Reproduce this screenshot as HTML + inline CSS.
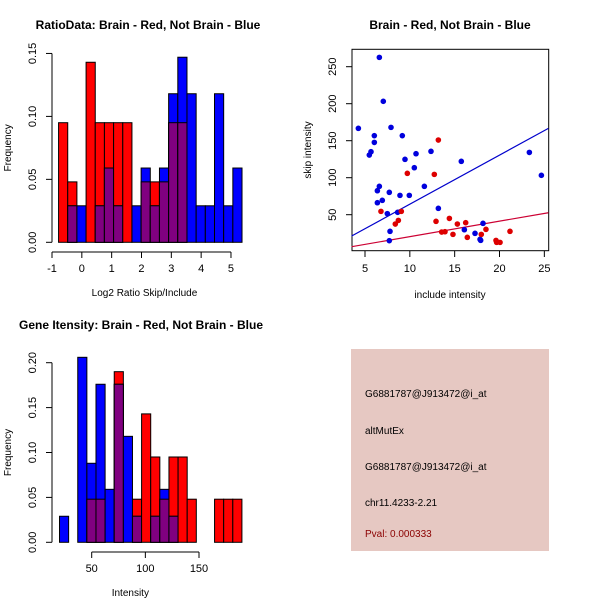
<!DOCTYPE html>
<html><head><meta charset="utf-8"><style>
body{margin:0;background:#fff}
svg{font-family:"Liberation Sans",Arial,sans-serif;display:block}
.t{font-weight:bold;font-size:12px}
.l{font-size:10px}
</style></head><body>
<svg id="s" width="600" height="600" viewBox="0 0 600 600">
<rect width="600" height="600" fill="#fff"/>
</svg>
<script>
// ---- data ----
const ratioBinStart = -0.78, ratioBinWidth = 0.3075;
const ratioRed  = [0.095,0.048,0,0.143,0.095,0.095,0.095,0.095,0,0.048,0.048,0.048,0.095,0.095,0,0,0,0,0,0];
const ratioBlue = [0,0.029,0.029,0,0.029,0.059,0.029,0,0.029,0.059,0.029,0.059,0.118,0.147,0.118,0.029,0.029,0.118,0.029,0.059];
const ratioXTicks = [-1,0,1,2,3,4,5];
const ratioYTicks = ["0.00","0.05","0.10","0.15"];

const intBinStart = 20, intBinWidth = 8.5;
const intRed  = [0,0,0,0.048,0.048,0,0.190,0,0.048,0.143,0.095,0.048,0.095,0.095,0.048,0,0,0.048,0.048,0.048];
const intBlue = [0.029,0,0.206,0.088,0.176,0.059,0.176,0.118,0.029,0,0.029,0.059,0.029,0,0,0,0,0,0,0];
const intXTicks = [50,100,150];
const intYTicks = ["0.00","0.05","0.10","0.15","0.20"];

const blueX = [4.26,6.60,7.04,7.90,6.04,6.04,5.48,5.67,6.38,6.60,6.93,6.38,7.71,7.49,8.64,8.90,9.94,9.16,9.46,10.50,10.69,11.62,12.36,15.74,13.18,16.08,18.16,17.27,17.83,17.90,7.71,7.79,23.33,24.67];
const blueY = [166.7,262.6,203.2,168.0,156.8,147.7,130.6,135.1,82.4,88.3,69.4,66.2,80.2,51.4,53.2,76.1,76.1,156.8,124.8,113.5,132.4,88.3,135.6,122.1,58.6,29.7,38.3,24.8,16.7,15.3,14.9,27.5,134.2,103.2];
const redX = [6.78,9.72,12.73,13.18,9.05,8.38,8.72,12.92,14.41,15.30,16.23,13.55,13.92,14.81,16.41,17.97,18.49,19.61,19.68,20.06,21.17];
const redY = [54.5,105.9,104.5,150.9,54.5,37.4,42.3,41.0,45.0,37.4,39.2,26.6,27.0,23.4,19.4,23.4,30.2,15.3,12.6,12.6,27.5];
const blueFit = [-2.07,6.63];
const redFit = [-0.54,2.09];
const scatXTicks = [5,10,15,20,25];
const scatYTicks = [50,100,150,200,250];

const NS="http://www.w3.org/2000/svg", S=document.getElementById('s');
function el(t,a,txt){const e=document.createElementNS(NS,t);for(const k in a)e.setAttribute(k,a[k]);if(txt!==undefined)e.textContent=txt;S.appendChild(e);return e;}

function hist(red,blue,start,w,xs,ys,yticks,xticks,xlab,title,titleX,titleY,axisY,xTickFrom,xTickTo,prefix){
  for(let i=0;i<red.length;i++){
    const x0=xs(start+i*w), x1=xs(start+(i+1)*w);
    const r=red[i], b=blue[i], m=Math.min(r,b);
    if(r>0){const e=el('rect',{x:x0,y:ys(r),width:x1-x0,height:ys(0)-ys(r),fill:'#ff0000',stroke:'#000','stroke-width':1});
      
      }
    if(b>0){const e=el('rect',{x:x0,y:ys(b),width:x1-x0,height:ys(0)-ys(b),fill:'#0000ff',stroke:'#000','stroke-width':1});
      
      }
    if(m>0){const e=el('rect',{x:x0,y:ys(m),width:x1-x0,height:ys(0)-ys(m),fill:'#800080',stroke:'#000','stroke-width':1});
      
      }
  }
  // y axis
  const ax=52;
  el('line',{x1:ax,y1:ys(0),x2:ax,y2:ys(parseFloat(yticks[yticks.length-1])),stroke:'#000'});
  yticks.forEach(t=>{const y=ys(parseFloat(t));el('line',{x1:ax-6,y1:y,x2:ax,y2:y,stroke:'#000'});
    const e=el('text',{x:36,y:y,'font-size':11,'text-anchor':'middle',transform:`rotate(-90 36 ${y})`},t);
    
    });
  // x axis
  el('line',{x1:xs(xTickFrom),y1:axisY,x2:xs(xTickTo),y2:axisY,stroke:'#000'});
  xticks.forEach(t=>{const x=xs(t);el('line',{x1:x,y1:axisY,x2:x,y2:axisY+6,stroke:'#000'});
    const e=el('text',{x:x,y:axisY+20,'font-size':11,'text-anchor':'middle'},t);
    
    });
  const yl=(ys(0)+ys(parseFloat(yticks[yticks.length-1])))/2;
  const a=el('text',{x:11,y:yl,'font-size':10,'text-anchor':'middle',transform:`rotate(-90 11 ${yl})`},'Frequency');
  
  
  const b=el('text',{x:xs((xTickFrom+xTickTo)/2)+ (prefix==='ratio'?3:-15),y:axisY+44,'font-size':10,'text-anchor':'middle'},xlab);
  
  
  const c=el('text',{x:titleX,y:titleY,'class':'t','text-anchor':'middle'},title);
  
  
}

// top-left
const rx=v=>52+(v+1)*29.83, ry=v=>242.3-v*1259;
hist(ratioRed,ratioBlue,ratioBinStart,ratioBinWidth,rx,ry,ratioYTicks,ratioXTicks,'Log2 Ratio Skip/Include','RatioData: Brain - Red, Not Brain - Blue',148,29,252,-1,5,'ratio');
// bottom-left
const ix=v=>91.7+(v-50)*1.073, iy=v=>542.3-v*898;
hist(intRed,intBlue,intBinStart,intBinWidth,ix,iy,intYTicks,intXTicks,'Intensity','Gene Itensity: Brain - Red, Not Brain - Blue',141,329,552,50,150,'intensity');

// scatter
const sx=v=>365+(v-5)*8.967, sy=v=>214.7-(v-50)*0.74;
el('rect',{x:352,y:49.3,width:196.7,height:201.4,fill:'none',stroke:'#000'});
scatXTicks.forEach(t=>{const x=sx(t);el('line',{x1:x,y1:251,x2:x,y2:257,stroke:'#000'});
  const e=el('text',{x:x,y:272,'font-size':11,'text-anchor':'middle'},t);
  
  });
scatYTicks.forEach(t=>{const y=sy(t);el('line',{x1:346,y1:y,x2:352,y2:y,stroke:'#000'});
  const e=el('text',{x:336,y:y,'font-size':11,'text-anchor':'middle',transform:`rotate(-90 336 ${y})`},t);
  
  });
function fit(c,col,name){const x0=3.51,x1=25.45;
  const e=el('line',{x1:sx(x0),y1:sy(c[0]+c[1]*x0),x2:sx(x1),y2:sy(c[0]+c[1]*x1),stroke:col,'stroke-width':1.2});
  
  }
fit(blueFit,'#0000cc','blue-fit-line');
fit(redFit,'#cc0033','red-fit-line');
blueX.forEach((v,i)=>{const e=el('circle',{cx:sx(v),cy:sy(blueY[i]),r:2.8,fill:'#0000dd'});
  
  });
redX.forEach((v,i)=>{const e=el('circle',{cx:sx(v),cy:sy(redY[i]),r:2.8,fill:'#dd0000'});
  
  });
let e=el('text',{x:450,y:29,'class':'t','text-anchor':'middle'},'Brain - Red, Not Brain - Blue');


e=el('text',{x:450,y:298,'font-size':10,'text-anchor':'middle'},'include intensity');


e=el('text',{x:311,y:150,'font-size':10,'text-anchor':'middle',transform:'rotate(-90 311 150)'},'skip intensity');



// info box
e=el('rect',{x:351,y:349,width:198,height:202,fill:'#e6c8c2'});


const info=[['G6881787@J913472@i_at',397,'#000','probe-id'],['altMutEx',434,'#000','event-type'],['G6881787@J913472@i_at',470,'#000','probe-id-2'],['chr11.4233-2.21',506,'#000','location'],['Pval: 0.000333',537,'#8b0000','p-value']];
info.forEach(r=>{const t=el('text',{x:365,y:r[1],'font-size':10,fill:r[2]},r[0]);
  
  });
</script>
</body></html>
